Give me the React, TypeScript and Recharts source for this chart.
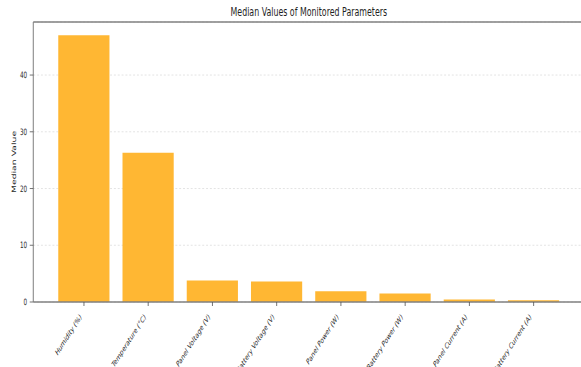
import { BarChart, Bar, XAxis, YAxis, CartesianGrid, ReferenceLine } from 'recharts';

const parameters = [
  'Humidity (%)',
  'Temperature (°C)',
  'Panel Voltage (V)',
  'Battery Voltage (V)',
  'Panel Power (W)',
  'Battery Power (W)',
  'Panel Current (A)',
  'Battery Current (A)',
];
const medianValues = [47.0, 26.3, 3.8, 3.6, 1.9, 1.5, 0.45, 0.3];
const yTicks = [0, 10, 20, 30, 40];
const yMax = 49.35;

const data = parameters.map((name, i) => ({ name, value: medianValues[i] }));

// the reference is squeezed horizontally, so draw wide and scale down
const SX = 0.64;
const FONT = '"DejaVu Sans", sans-serif';

function RotatedTick({ x, y, payload }: any) {
  const ax = x - 5;
  const ay = y + 7.5;
  return (
    <text
      x={ax}
      y={ay}
      transform={`rotate(-45, ${ax}, ${ay})`}
      textAnchor="end"
      dy="0.35em"
      fontSize={8.3}
      fontFamily={FONT}
      fill="#1f1f1f"
    >
      {payload.value}
    </text>
  );
}

export default function App() {
  return (
    <div style={{ position: 'absolute', left: 0, top: 0, width: 581, height: 367, overflow: 'hidden', background: '#fff' }}>
      <div style={{ position: 'relative', width: 931, height: 367, transform: `scaleX(${SX})`, transformOrigin: 'left top' }}>
        <div
          style={{
            position: 'absolute',
            left: 52,
            width: 861,
            top: 6,
            textAlign: 'center',
            fontFamily: FONT,
            fontSize: 12.3,
            lineHeight: '13px',
            color: '#1f1f1f',
          }}
        >
          Median Values of Monitored Parameters
        </div>
        <BarChart
          width={931}
          height={367}
          data={data}
          margin={{ top: 22, right: 18, left: 0, bottom: 0 }}
          barCategoryGap="10%"
        >
          <CartesianGrid vertical={false} strokeDasharray="3 3" stroke="#dddddd" />
          <XAxis
            dataKey="name"
            interval={0}
            height={65}
            padding={{ left: 29, right: 29 }}
            tick={<RotatedTick />}
            tickSize={4}
            axisLine={{ stroke: '#808080', strokeWidth: 1.3 }}
            tickLine={{ stroke: '#555' }}
          />
          <YAxis
            width={52}
            domain={[0, yMax]}
            ticks={yTicks}
            tickSize={5.5}
            tickMargin={4}
            axisLine={{ stroke: '#808080', strokeWidth: 1.6 }}
            tickLine={{ stroke: '#555' }}
            tick={{ fontSize: 8.8, fontFamily: FONT, fill: '#1f1f1f' }}
            label={{
              value: 'Median Value',
              angle: -90,
              position: 'center',
              dx: -4,
              style: { fontSize: 9.3, fontFamily: FONT, fill: '#1f1f1f' },
            }}
          />
          <ReferenceLine y={yMax} stroke="#808080" strokeWidth={1.3} />
          <Bar dataKey="value" fill="#FFB733" isAnimationActive={false} />
        </BarChart>
      </div>
    </div>
  );
}
